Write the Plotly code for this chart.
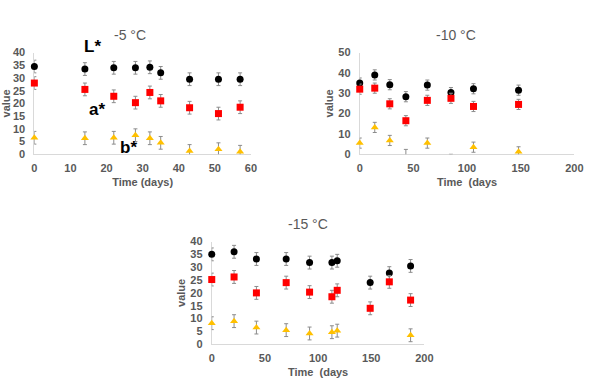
import plotly.graph_objects as go

W, H = 601, 390

# ---- data -----------------------------------------------------------
days_5 = [0, 14, 22, 28, 32, 35, 43, 51, 57]
L_5 = [34.5, 33.5, 34.0, 34.0, 34.2, 32.0, 29.5, 29.5, 29.5]
a_5 = [28.0, 25.5, 22.8, 20.3, 24.3, 21.0, 18.3, 16.0, 18.5]
b_5 = [6.5, 6.3, 6.5, 7.5, 6.3, 4.5, 1.3, 2.0, 1.0]
errL_5 = [2.5, 2.5, 2.5, 2.5, 2.5, 2.5, 2.5, 2.5, 2.5]
erra_5 = [2.5, 2.5, 2.5, 2.5, 2.5, 2.5, 2.5, 2.5, 2.5]
errb_5 = [2.5, 2.5, 2.5, 2.5, 2.5, 2.5, 2.5, 2.5, 2.5]

days_10 = [0, 14, 28, 43, 63, 85, 106, 148]
L_10 = [35.0, 39.0, 34.2, 28.3, 34.0, 30.3, 32.2, 31.5]
a_10 = [32.0, 32.5, 24.8, 16.5, 26.5, 27.5, 23.5, 24.5]
b_10 = [5.5, 13.2, 6.8, -2.0, 5.5, -2.5, 3.5, 1.2]
errL_10 = [2.5, 2.5, 2.5, 2.5, 2.5, 2.5, 2.5, 2.5]
erra_10 = [2.5, 2.5, 2.5, 2.5, 2.5, 2.5, 2.5, 2.5]
errb_10 = [2.5, 2.5, 2.5, 4.4, 2.5, 2.5, 2.5, 2.5]

days_15 = [0, 21, 42, 70, 92, 113, 118, 149, 167, 187]
L_15 = [35.0, 36.0, 33.2, 33.2, 31.8, 31.8, 32.5, 24.0, 27.7, 30.5]
a_15 = [25.2, 26.2, 20.0, 24.0, 20.3, 18.5, 21.0, 14.0, 24.3, 17.2]
days_15b = [0, 21, 42, 70, 92, 113, 118, 187]
b_15 = [8.2, 9.0, 6.5, 5.5, 4.2, 4.7, 5.3, 3.5]
errL_15 = [2.5] * 10
erra_15 = [2.5] * 10
errb_15 = [2.5] * 8

# ---- styling --------------------------------------------------------
GREY = "#595959"
ERR = dict(type="data", color="#8c8c8c", thickness=1, width=2)
COL = {"L*": "#000000", "a*": "#ff0000", "b*": "#ffc000"}
SYM = {"L*": "circle", "a*": "square", "b*": "triangle-up"}
SIZE = {"L*": 7, "a*": 7, "b*": 7}

fig = go.Figure()


def add(xs, ys, errs, name, xa, ya, clip=False):
    fig.add_trace(go.Scatter(
        x=xs, y=ys, mode="markers", name=name, xaxis=xa, yaxis=ya,
        marker=dict(color=COL[name], symbol=SYM[name], size=SIZE[name]),
        error_y=dict(array=errs, **ERR), cliponaxis=clip, showlegend=False))


add(days_5, L_5, errL_5, "L*", "x", "y")
add(days_5, a_5, erra_5, "a*", "x", "y")
add(days_5, b_5, errb_5, "b*", "x", "y")

add(days_10, L_10, errL_10, "L*", "x2", "y2")
add(days_10, a_10, erra_10, "a*", "x2", "y2")
# b* at -10 °C: points at/above zero drawn unclipped, points below zero clipped
pos = [i for i, v in enumerate(b_10) if v >= 0]
neg = [i for i, v in enumerate(b_10) if v < 0]
add([days_10[i] for i in pos], [b_10[i] for i in pos], [errb_10[i] for i in pos],
    "b*", "x2", "y2")
add([days_10[i] for i in neg], [b_10[i] for i in neg], [errb_10[i] for i in neg],
    "b*", "x2", "y2", clip=True)

add(days_15, L_15, errL_15, "L*", "x3", "y3")
add(days_15, a_15, erra_15, "a*", "x3", "y3")
add(days_15b, b_15, errb_15, "b*", "x3", "y3")


def px_x(p):
    return p / W


def px_y(p):
    return 1 - p / H


tickfont = dict(family="Liberation Sans, Arial", size=11, color=GREY, weight="bold")
titlefont = dict(family="Liberation Sans, Arial", size=11, color=GREY)


def xaxis(dom, anchor, rng, dtick, title):
    return dict(domain=dom, anchor=anchor, range=rng, dtick=dtick,
                showgrid=False, zeroline=False, showline=True,
                linecolor="#d9d9d9", linewidth=1, ticks="", layer="below traces",
                tickfont=tickfont, ticklabelstandoff=4,
                title=dict(text=f"<b>{title}</b>", font=titlefont, standoff=4))


def yaxis(dom, anchor, rng, dtick):
    return dict(domain=dom, anchor=anchor, range=rng, dtick=dtick,
                showgrid=False, zeroline=False, showline=True,
                linecolor="#d9d9d9", linewidth=1, ticks="", layer="below traces",
                tickfont=tickfont, ticklabelstandoff=6,
                title=dict(text="<b>value</b>", font=titlefont, standoff=2))


fig.update_layout(
    width=W, height=H, paper_bgcolor="white", plot_bgcolor="white",
    margin=dict(l=0, r=0, t=0, b=0),
    font=dict(family="Liberation Sans, Arial", color=GREY),
    xaxis=xaxis([px_x(32), px_x(253)], "y", [0, 60], 10, "Time (days)"),
    yaxis=yaxis([px_y(153), px_y(48)], "x", [0, 40], 5),
    xaxis2=xaxis([px_x(364), px_x(583)], "y2", [0, 200], 50, "Time  (days"),
    yaxis2=yaxis([px_y(153), px_y(48)], "x2", [0, 50], 10),
    xaxis3=xaxis([px_x(213), px_x(430)], "y3", [0, 200], 50, "Time  (days"),
    yaxis3=yaxis([px_y(349), px_y(243)], "x3", [0, 40], 5),
)

title_font = dict(family="Liberation Sans, Arial", size=14, color=GREY)
for txt, cx, cy in [("-5 °C", 130, 30), ("-10 °C", 462, 30), ("-15 °C", 311, 225)]:
    fig.add_annotation(text=txt, x=px_x(cx), y=px_y(cy), xref="paper",
                       yref="paper", showarrow=False, font=title_font,
                       xanchor="center", yanchor="middle")

lab_font = dict(family="Liberation Sans, Arial", size=17, color="#000000")
for txt, cx, cy in [("L*", 91, 42), ("a*", 96, 107), ("b*", 128, 146)]:
    fig.add_annotation(text=f"<b>{txt}</b>", x=px_x(cx), y=px_y(cy), xref="paper",
                       yref="paper", showarrow=False, font=lab_font,
                       xanchor="center", yanchor="middle")

fig.write_html("out.html", config={"displayModeBar": False},
               post_script="document.body.style.margin='0';"
                           "document.body.style.overflow='hidden';")
